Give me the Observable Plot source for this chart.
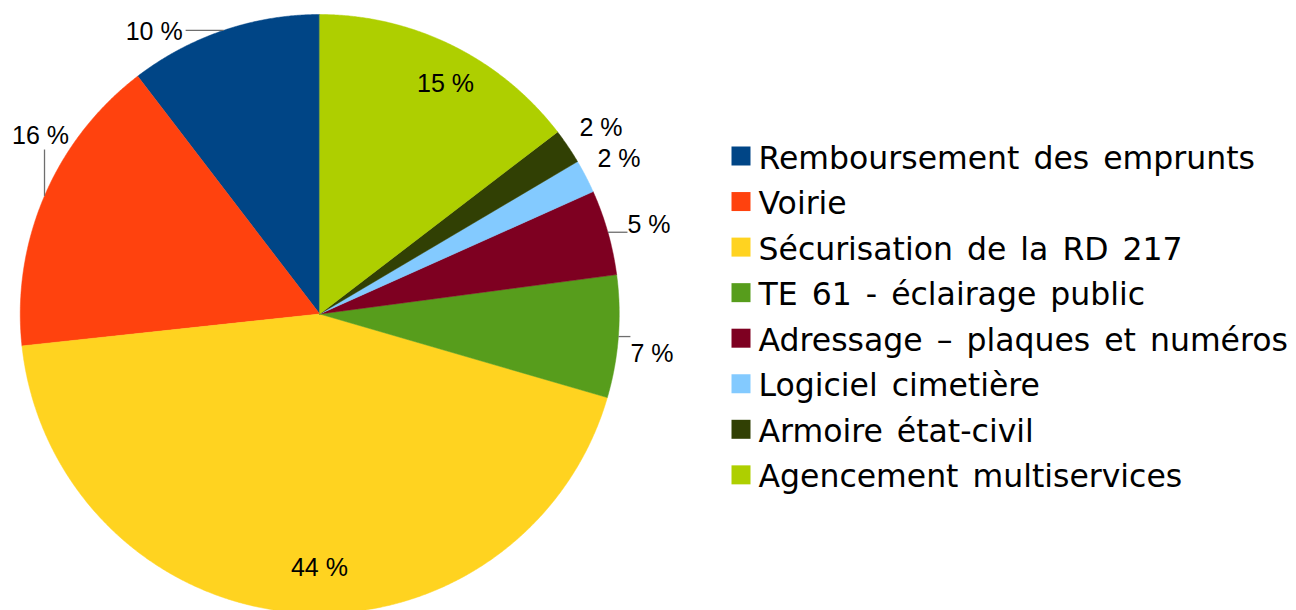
<!DOCTYPE html>
<html>
<head>
<meta charset="utf-8">
<script src="https://cdn.jsdelivr.net/npm/d3@7"></script>
<script src="https://cdn.jsdelivr.net/npm/@observablehq/plot@0.6"></script>
<style>
  html, body { margin: 0; padding: 0; background: #ffffff; }
  #chart svg { display: block; }
  #chart svg g[font-family="DejaVu Sans"] { word-spacing: 4px; }
</style>
</head>
<body>
<div id="chart"></div>
<script>
// ---------- data ----------
const categories = [
  "Remboursement des emprunts",
  "Voirie",
  "Sécurisation de la RD 217",
  "TE 61 - éclairage public",
  "Adressage – plaques et numéros",
  "Logiciel cimetière",
  "Armoire état-civil",
  "Agencement multiservices"
];
const shares = [10.4, 16.3, 43.8, 6.6, 4.6, 1.8, 1.9, 14.6];
const labels = ["10 %", "16 %", "44 %", "7 %", "5 %", "2 %", "2 %", "15 %"];
const colors = ["#004586", "#ff420e", "#ffd320", "#579d1c", "#7e0021", "#83caff", "#314004", "#aecf00"];

// ---------- layout ----------
const W = 1296, H = 610;
const CX = 319.25, CY = 313.5, R = 299.5;           // pie centre and radius in pixels
const toU = (px, py) => [(px - CX) / R, (py - CY) / R]; // pixel -> unit-circle space

// label placement relative to the mid-arc point of each slice (pixels)
const labelLayout = [
  {dx: -41, dy: 9.2, anchor: "end", leader: [-38, 0]},
  {dx: -4, dy: -52.4, anchor: "middle", leader: [0, -46.4]},
  {dx: 26, dy: -36.8, anchor: "middle"},
  {dx: 12.1, dy: 25.9, anchor: "start", leader: [12, 0]},
  {dx: 19.6, dy: 0.8, anchor: "start", leader: [19.6, 0]},
  {dx: 11.7, dy: -8.9, anchor: "start"},
  {dx: 11.5, dy: -10, anchor: "start"},
  {dx: -6.9, dy: 47, anchor: "middle"}
];
const legendLayout = {squareX: 740.5, textX: 758, firstBaseline: 168, step: 45.55, squareSide: 19};

// ---------- geometry from data ----------
const total = d3.sum(shares);
const pt = f => [-Math.sin(2 * Math.PI * f), -Math.cos(2 * Math.PI * f)]; // counter-clockwise from top
let acc = 0;
const slices = categories.map((name, i) => {
  const f0 = acc / total; acc += shares[i]; const f1 = acc / total;
  const n = Math.max(4, Math.ceil((f1 - f0) * 1440));
  const ring = [[0, 0]];
  for (let k = 0; k <= n; k++) ring.push(pt(f0 + (f1 - f0) * k / n));
  ring.push([0, 0]);
  return {
    type: "Feature",
    properties: {name, label: labels[i], mid: pt((f0 + f1) / 2)},
    geometry: {type: "Polygon", coordinates: [ring]}
  };
});

const labelData = slices.map((s, i) => {
  const [mx, my] = s.properties.mid;
  const L = labelLayout[i];
  return {label: s.properties.label, anchor: L.anchor, x: mx + L.dx / R, y: my + L.dy / R};
});
const leaders = slices.map((s, i) => {
  const L = labelLayout[i];
  if (!L.leader) return null;
  const [mx, my] = s.properties.mid;
  return {x1: mx, y1: my, x2: mx + L.leader[0] / R, y2: my + L.leader[1] / R};
}).filter(d => d);

const legendData = categories.map((name, i) => {
  const base = legendLayout.firstBaseline + i * legendLayout.step;
  const [sx, sy] = toU(legendLayout.squareX, base - 12.5);
  const [tx, ty] = toU(legendLayout.textX, base);
  return {name, sx, sy, tx, ty};
});

// frame in unit space so that the identity projection maps pixels 1:1 with the layout
const [fx0, fy0] = toU(0, 0), [fx1, fy1] = toU(W, H);
const frame = {type: "Polygon", coordinates: [[[fx0, fy0], [fx1, fy0], [fx1, fy1], [fx0, fy1], [fx0, fy0]]]};

const textMarks = ["start", "middle", "end"].map(a =>
  Plot.text(labelData.filter(d => d.anchor === a), {
    x: "x", y: "y", text: "label", textAnchor: a, lineAnchor: "bottom",
    fontFamily: "Liberation Sans", fontSize: 25, fill: "#000000"
  })
);

const chart = Plot.plot({
  width: W,
  height: H,
  margin: 0,
  style: {background: "#ffffff"},
  projection: {type: "identity", domain: frame, inset: 0},
  color: {domain: categories, range: colors},
  marks: [
    Plot.geo(slices, {fill: d => d.properties.name, stroke: d => d.properties.name, strokeWidth: 0.5}),
    Plot.link(leaders, {x1: "x1", y1: "y1", x2: "x2", y2: "y2", stroke: "#6e6e6e", strokeWidth: 1.3}),
    ...textMarks,
    Plot.dot(legendData, {
      x: "sx", y: "sy", fill: "name", symbol: "square",
      r: legendLayout.squareSide / Math.sqrt(Math.PI)
    }),
    Plot.text(legendData, {
      x: "tx", y: "ty", text: "name", textAnchor: "start", lineAnchor: "bottom",
      fontFamily: "DejaVu Sans", fontSize: 31.5, fill: "#000000"
    })
  ]
});
document.getElementById("chart").appendChild(chart);
</script>
</body>
</html>
